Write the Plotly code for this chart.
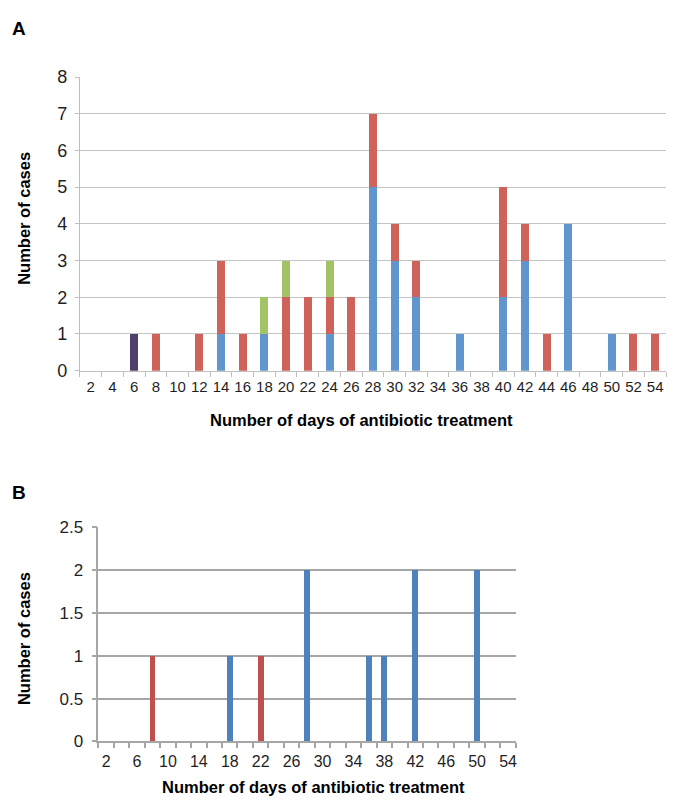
import plotly.graph_objects as go

W, H = 683, 801

# ---------------- Data ----------------
days = [2, 4, 6, 8, 10, 12, 14, 16, 18, 20, 22, 24, 26, 28,
        30, 32, 34, 36, 38, 40, 42, 44, 46, 48, 50, 52, 54]

# Panel A (stacked)
a_blue = [0, 0, 0, 0, 0, 0, 1, 0, 1, 0, 0, 1, 0, 5, 3, 2, 0, 1, 0, 2, 3, 0, 4, 0, 1, 0, 0]
a_red = [0, 0, 0, 1, 0, 1, 2, 1, 0, 2, 2, 1, 2, 2, 1, 1, 0, 0, 0, 3, 1, 1, 0, 0, 0, 1, 1]
a_green = [0, 0, 0, 0, 0, 0, 0, 0, 1, 1, 0, 1, 0, 0, 0, 0, 0, 0, 0, 0, 0, 0, 0, 0, 0, 0, 0]
a_purple = [0, 0, 1, 0, 0, 0, 0, 0, 0, 0, 0, 0, 0, 0, 0, 0, 0, 0, 0, 0, 0, 0, 0, 0, 0, 0, 0]

# Panel B
b_blue = [0, 0, 0, 0, 0, 0, 0, 0, 1, 0, 0, 0, 0, 2, 0, 0, 0, 1, 1, 0, 2, 0, 0, 0, 2, 0, 0]
b_red = [0, 0, 0, 1, 0, 0, 0, 0, 0, 0, 1, 0, 0, 0, 0, 0, 0, 0, 0, 0, 0, 0, 0, 0, 0, 0, 0]

a_yticks = [0, 1, 2, 3, 4, 5, 6, 7, 8]
b_yticks = [0, 0.5, 1, 1.5, 2, 2.5]
b_yticktext = ["0", "0.5", "1", "1.5", "2", "2.5"]
b_xticks = [2, 6, 10, 14, 18, 22, 26, 30, 34, 38, 42, 46, 50, 54]

# ---------------- Helpers ----------------
def nz(vals):
    return [v if v else None for v in vals]

def px_x(p):
    return p / W

def px_y(p):
    return 1 - p / H

FONT = "Liberation Sans, Arial, sans-serif"
TXT = "#1f1f1f"

fig = go.Figure()

A_BLUE, A_RED, A_GREEN, A_PURPLE = "#6096cd", "#d0625c", "#a3c466", "#4f3f6b"
B_BLUE, B_RED = "#4f81bd", "#c0504d"

fig.add_trace(go.Bar(x=days, y=nz(a_blue), marker_color=A_BLUE, width=0.74,
                     xaxis="x", yaxis="y", showlegend=False))
fig.add_trace(go.Bar(x=days, y=nz(a_red), marker_color=A_RED, width=0.74,
                     xaxis="x", yaxis="y", showlegend=False))
fig.add_trace(go.Bar(x=days, y=nz(a_green), marker_color=A_GREEN, width=0.74,
                     xaxis="x", yaxis="y", showlegend=False))
fig.add_trace(go.Bar(x=days, y=nz(a_purple), marker_color=A_PURPLE, width=0.74,
                     xaxis="x", yaxis="y", showlegend=False))

fig.add_trace(go.Bar(x=days, y=nz(b_blue), marker_color=B_BLUE, width=0.76,
                     xaxis="x2", yaxis="y2", showlegend=False))
fig.add_trace(go.Bar(x=days, y=nz(b_red), marker_color=B_RED, width=0.76,
                     xaxis="x2", yaxis="y2", showlegend=False))

fig.update_traces(marker_line_width=0)

fig.update_layout(
    width=W, height=H,
    margin=dict(l=0, r=0, t=0, b=0),
    paper_bgcolor="white", plot_bgcolor="white",
    barmode="stack",
    font=dict(family=FONT, color=TXT),
    xaxis=dict(
        domain=[px_x(72), px_x(659)], anchor="y",
        range=[1, 55], tickmode="array", tickvals=days,
        ticktext=[str(d) for d in days],
        ticks="", showgrid=False, zeroline=False,
        showline=True, linecolor="#bfbfbf", linewidth=1,
        tickfont=dict(size=15, color=TXT), ticklabelstandoff=2,
        minor=dict(tickmode="linear", tick0=1, dtick=2, ticks="outside",
                   ticklen=5, tickcolor="#bfbfbf", showgrid=False),
    ),
    yaxis=dict(
        domain=[px_y(361.7), px_y(60.6)], anchor="x",
        range=[0, 8], tickmode="array", tickvals=a_yticks,
        ticks="outside", ticklen=4, tickcolor="#bfbfbf",
        showgrid=True, gridcolor="#c4c4c4", gridwidth=1,
        zeroline=False, showline=True, linecolor="#bfbfbf", linewidth=1,
        tickfont=dict(size=18, color=TXT), ticklabelstandoff=4,
    ),
    xaxis2=dict(
        domain=[px_x(90.5), px_x(508.5)], anchor="y2",
        range=[1, 55], tickmode="array", tickvals=b_xticks,
        ticktext=[str(d) for d in b_xticks],
        ticks="", showgrid=False, zeroline=False,
        showline=True, linecolor="#a6a6a6", linewidth=1.5,
        tickfont=dict(size=16, color=TXT), ticklabelstandoff=5,
        minor=dict(tickmode="linear", tick0=1, dtick=2, ticks="outside",
                   ticklen=5, tickcolor="#a6a6a6", tickwidth=1.5, showgrid=False),
    ),
    yaxis2=dict(
        domain=[px_y(742), px_y(522)], anchor="x2",
        range=[0, 2.5], tickmode="array", tickvals=b_yticks, ticktext=b_yticktext,
        ticks="outside", ticklen=5, tickcolor="#a6a6a6", tickwidth=1.5,
        showgrid=True, gridcolor="#a6a6a6", gridwidth=1.5,
        zeroline=False, showline=True, linecolor="#a6a6a6", linewidth=1.5,
        tickfont=dict(size=17, color=TXT), ticklabelstandoff=5,
    ),
)

ann = []
ann.append(dict(text="<b>A</b>", x=px_x(2), y=px_y(11), xref="paper", yref="paper",
                xanchor="left", yanchor="middle", showarrow=False,
                font=dict(size=19, color="#000")))
ann.append(dict(text="<b>B</b>", x=px_x(2), y=px_y(487), xref="paper", yref="paper",
                xanchor="left", yanchor="middle", showarrow=False,
                font=dict(size=19, color="#000")))
ann.append(dict(text="<b>Number of cases</b>", x=px_x(16), y=px_y(205),
                xref="paper", yref="paper", textangle=-90,
                xanchor="center", yanchor="middle", showarrow=False,
                font=dict(size=16.5, color="#000")))
ann.append(dict(text="<b>Number of cases</b>", x=px_x(16), y=px_y(636),
                xref="paper", yref="paper", textangle=-90,
                xanchor="center", yanchor="middle", showarrow=False,
                font=dict(size=16.5, color="#000")))
ann.append(dict(text="<b>Number of days of antibiotic treatment</b>", x=px_x(354),
                y=px_y(412), xref="paper", yref="paper",
                xanchor="center", yanchor="middle", showarrow=False,
                font=dict(size=16.5, color="#000")))
ann.append(dict(text="<b>Number of days of antibiotic treatment</b>", x=px_x(306),
                y=px_y(789), xref="paper", yref="paper",
                xanchor="center", yanchor="middle", showarrow=False,
                font=dict(size=16.5, color="#000")))
fig.update_layout(annotations=ann)

fig.add_shape(type="line", xref="paper", yref="paper",
              x0=px_x(681), x1=px_x(681), y0=px_y(37), y1=px_y(428),
              line=dict(color="#dcdcdc", width=1))

fig.write_html("out.html")
